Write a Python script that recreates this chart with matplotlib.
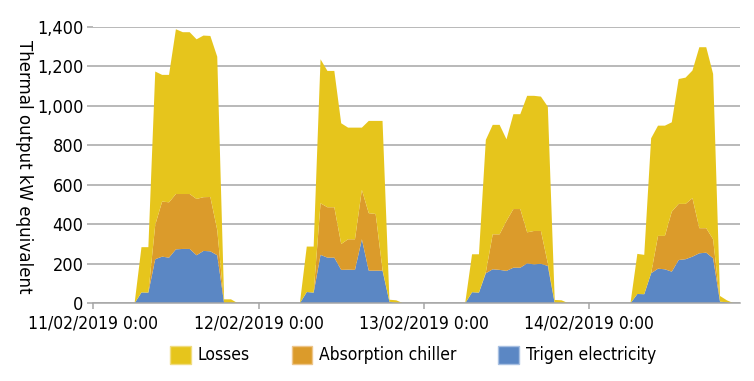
import numpy as np
import matplotlib.pyplot as plt
from matplotlib.patches import Patch
from matplotlib.ticker import StrMethodFormatter

plt.rcParams['font.family'] = ['DejaVu Sans']
plt.rcParams['font.stretch'] = 'condensed'

# hourly values, one row per day (hours 0..23)
trigen = [
    0, 0, 0, 0, 0, 0, 0, 55, 54, 223, 236, 231, 273, 275, 275, 243, 265, 263, 243, 0, 0, 0, 0, 0,
    0, 0, 0, 0, 0, 0, 0, 57, 54, 245, 231, 231, 169, 170, 169, 324, 165, 165, 165, 8, 0, 0, 0, 0,
    0, 0, 0, 0, 0, 0, 0, 56, 54, 152, 172, 169, 164, 180, 180, 202, 197, 200, 189, 0, 0, 0, 0, 0,
    0, 0, 0, 0, 0, 0, 0, 47, 46, 152, 175, 172, 160, 219, 223, 236, 253, 256, 228, 8, 5, 0, 0, 0,
]
absorption = [
    0, 0, 0, 0, 0, 0, 0, 0, 0, 174, 279, 280, 280, 278, 278, 285, 272, 275, 128, 0, 0, 0, 0, 0,
    0, 0, 0, 0, 0, 0, 0, 0, 0, 261, 255, 255, 131, 154, 155, 250, 291, 287, 4, 0, 0, 0, 0, 0,
    0, 0, 0, 0, 0, 0, 0, 0, 0, 5, 177, 180, 253, 297, 297, 157, 169, 166, 13, 0, 0, 0, 0, 0,
    0, 0, 0, 0, 0, 0, 0, 0, 0, 0, 166, 169, 304, 284, 280, 296, 127, 124, 96, 0, 0, 0, 0, 0,
]
losses = [
    0, 0, 0, 0, 0, 0, 0, 229, 230, 776, 641, 645, 834, 819, 819, 808, 818, 815, 877, 20, 20, 0, 0, 0,
    0, 0, 0, 0, 0, 0, 0, 230, 233, 729, 690, 690, 611, 565, 565, 315, 467, 471, 754, 10, 15, 0, 0, 0,
    0, 0, 0, 0, 0, 0, 0, 192, 194, 670, 554, 554, 413, 480, 480, 691, 684, 680, 793, 17, 15, 0, 0, 0,
    0, 0, 0, 0, 0, 0, 0, 203, 199, 683, 558, 558, 452, 632, 639, 646, 916, 916, 837, 29, 10, 0, 0, 0,
]
day_labels = ['11/02/2019 0:00', '12/02/2019 0:00', '13/02/2019 0:00', '14/02/2019 0:00']
series_names = ['Losses', 'Absorption chiller', 'Trigen electricity']

c_blue = '#5B87C4'
c_orange = '#DB9B2B'
c_yellow = '#E6C51C'
grid_c = '#A6A6A6'

hours = np.arange(len(trigen))

fig = plt.figure(figsize=(7.54, 3.81), dpi=100)
ax = fig.add_axes([0.1237, 0.204, 0.8577, 0.726])

ax.stackplot(hours, trigen, absorption, losses,
             colors=[c_blue, c_orange, c_yellow], linewidth=0, zorder=3)

ax.set_xlim(0, 93.9)
ax.set_ylim(0, 1400)
ax.set_yticks(np.arange(0, 1401, 200))
ax.yaxis.set_major_formatter(StrMethodFormatter('{x:,.0f}'))
ax.set_xticks([0, 24, 48, 72])
ax.set_xticklabels(day_labels)

ax.grid(axis='y', color=grid_c, linewidth=1.1, zorder=1)
for s in ['top', 'right', 'left']:
    ax.spines[s].set_visible(False)
ax.spines['bottom'].set_color(grid_c)
ax.spines['bottom'].set_linewidth(1.1)
ax.spines['bottom'].set_zorder(4)

ax.tick_params(axis='x', length=4, color=grid_c, width=1.1, pad=4, labelsize=12.5)
ax.tick_params(axis='y', length=4, color=grid_c, width=1.1, pad=3, labelsize=13)

fig.text(0.032, 0.562, 'Thermal output kW equivalent', rotation=-90,
         ha='center', va='center', fontsize=13.3)

handles = [Patch(facecolor=c_yellow, edgecolor='#F0DC80'),
           Patch(facecolor=c_orange, edgecolor='#EDC58A'),
           Patch(facecolor=c_blue, edgecolor='#A8C0E2')]
fig.legend(handles, series_names, loc='center', bbox_to_anchor=(0.548, 0.068),
           ncol=3, frameon=False, fontsize=12.5, handlelength=1.2, handleheight=1.2,
           handletextpad=0.4, columnspacing=2.4)

fig.savefig('out.png', dpi=100)
